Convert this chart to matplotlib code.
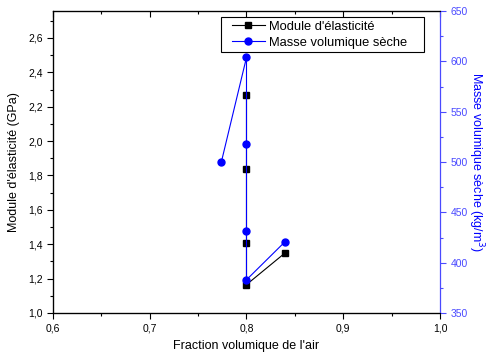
import matplotlib
matplotlib.use("Agg")
import matplotlib.pyplot as plt
from matplotlib.patches import Rectangle
from matplotlib.ticker import FuncFormatter, MultipleLocator

plt.rcParams["font.family"] = ["Liberation Sans", "DejaVu Sans"]

# data
mod_x = [0.80, 0.80, 0.80, 0.80, 0.84]
mod_y = [2.27, 1.84, 1.41, 1.165, 1.35]
dens_x = [0.774, 0.80, 0.80, 0.80, 0.80, 0.84]
dens_y = [500, 604, 518, 431, 383, 421]

BLUE = "#0000ff"
SPINE_BLUE = "#4a4aff"

comma = FuncFormatter(lambda v, p: f"{v:.1f}".replace(".", ","))

fig = plt.figure(figsize=(4.87, 3.56), dpi=100)
ax = fig.add_axes([0.1088, 0.1208, 0.7947, 0.848])
ax2 = ax.twinx()

l1, = ax.plot(mod_x, mod_y, "-s", color="black", lw=0.8, ms=4,
              label="Module d'élasticité")
l2, = ax2.plot(dens_x, dens_y, "-o", color=BLUE, lw=0.8, ms=5,
               label="Masse volumique sèche")

ax.set_xlim(0.6, 1.0)
ax.set_ylim(1.0, 2.756)
ax2.set_ylim(350, 650)

ax.xaxis.set_major_locator(MultipleLocator(0.1))
ax.xaxis.set_minor_locator(MultipleLocator(0.05))
ax.yaxis.set_major_locator(MultipleLocator(0.2))
ax.yaxis.set_minor_locator(MultipleLocator(0.1))
ax.xaxis.set_major_formatter(comma)
ax.yaxis.set_major_formatter(comma)
ax2.yaxis.set_major_locator(MultipleLocator(50))
ax2.yaxis.set_minor_locator(MultipleLocator(25))

ax.tick_params(which="both", direction="out", labelsize=7.5, width=0.8)
ax.tick_params(which="major", length=4)
ax.tick_params(which="minor", length=2.5)
ax.tick_params(axis="x", which="both", top=True, labeltop=False)
ax2.tick_params(which="both", direction="out", labelsize=7.5,
                colors=SPINE_BLUE, width=0.8)
ax2.tick_params(which="major", length=4)
ax2.tick_params(which="minor", length=2.5)

# top ticks point inward
for t in ax.xaxis.get_major_ticks() + ax.xaxis.get_minor_ticks():
    t.tick2line.set_marker(matplotlib.lines.TICKDOWN)

ax2.spines["right"].set_color(SPINE_BLUE)
for s in ("left", "bottom", "top"):
    ax.spines[s].set_linewidth(0.9)
ax2.spines["right"].set_linewidth(0.9)
ax.spines["right"].set_visible(False)

ax.set_xlabel("Fraction volumique de l'air", fontsize=9, labelpad=5)
ax.set_ylabel("Module d'élasticité (GPa)", fontsize=9, labelpad=6)
ax2.set_ylabel("Masse volumique sèche (kg/m$^3$)", fontsize=9,
               color=BLUE, rotation=270, labelpad=13)

# legend without its own frame; the Origin-style box is wider on the right
leg = ax2.legend([l1, l2], [l1.get_label(), l2.get_label()],
                 loc="upper left", bbox_to_anchor=(0.455, 0.976),
                 fontsize=9.3, frameon=False, borderpad=0.2,
                 labelspacing=0.3, handlelength=2.6, handletextpad=0.3,
                 borderaxespad=0)
leg.set_zorder(6)
fig.canvas.draw()
bb = leg.get_window_extent()
box = Rectangle((bb.x0 - 8, bb.y0 - 1), bb.width + 22, bb.height + 2,
                transform=None, facecolor="white", edgecolor="black",
                lw=0.8, zorder=5, clip_on=False)
ax2.add_artist(box)

fig.savefig("out.png", dpi=100)
